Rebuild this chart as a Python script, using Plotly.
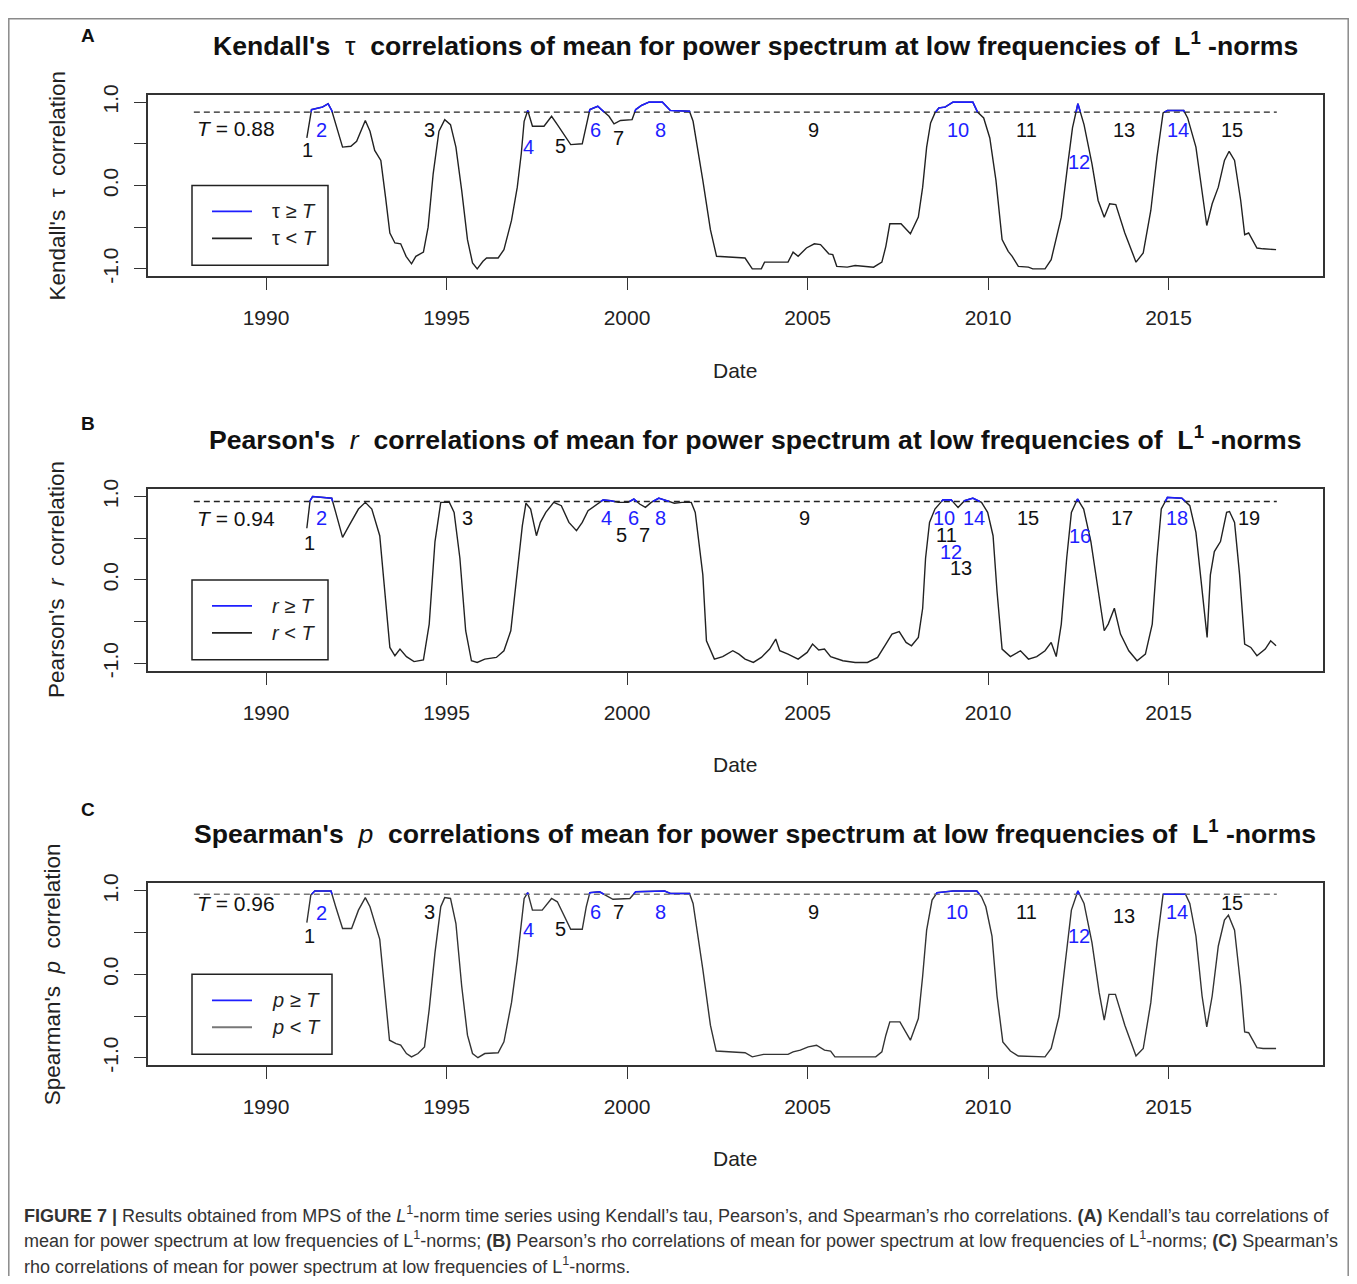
import plotly.graph_objects as go

# ---------------- data ----------------
kendall_T = 0.88
kendall_x = [1991.13, 1991.26, 1991.56, 1991.72, 1991.82, 1991.98, 1992.12, 1992.35, 1992.51, 1992.75,
             1992.88, 1993.01, 1993.18, 1993.31, 1993.43, 1993.57, 1993.73, 1993.88, 1994.03, 1994.15,
             1994.36, 1994.49, 1994.63, 1994.79, 1994.95, 1995.11, 1995.26, 1995.42, 1995.58, 1995.72,
             1995.85, 1996.01, 1996.11, 1996.43, 1996.59, 1996.80, 1996.96, 1997.07, 1997.15, 1997.25,
             1997.38, 1997.70, 1997.91, 1998.07, 1998.28, 1998.44, 1998.76, 1998.87, 1998.97, 1999.19,
             1999.34, 1999.50, 1999.64, 1999.82, 2000.14, 2000.24, 2000.40, 2000.61, 2000.98, 2001.20,
             2001.73, 2001.83, 2002.10, 2002.31, 2002.48, 2003.27, 2003.47, 2003.72, 2003.81, 2004.46,
             2004.60, 2004.74, 2004.97, 2005.19, 2005.36, 2005.59, 2005.70, 2005.81, 2006.10, 2006.32,
             2006.83, 2007.06, 2007.17, 2007.28, 2007.59, 2007.85, 2008.07, 2008.19, 2008.30, 2008.41,
             2008.53, 2008.64, 2008.81, 2009.03, 2009.58, 2009.71, 2009.88, 2010.05, 2010.22, 2010.39,
             2010.56, 2010.67, 2010.84, 2011.12, 2011.24, 2011.58, 2011.75, 2012.03, 2012.20, 2012.34,
             2012.49, 2012.66, 2012.88, 2013.05, 2013.22, 2013.37, 2013.54, 2013.79, 2014.10, 2014.30,
             2014.51, 2014.68, 2014.85, 2014.97, 2015.42, 2015.53, 2015.76, 2015.93, 2016.06, 2016.21,
             2016.38, 2016.55, 2016.68, 2016.83, 2017.00, 2017.11, 2017.22, 2017.45, 2017.62, 2017.98]
kendall_y = [0.57, 0.91, 0.94, 0.98, 0.90, 0.65, 0.46, 0.47, 0.53, 0.78,
             0.65, 0.42, 0.30, -0.14, -0.57, -0.69, -0.70, -0.85, -0.94, -0.85,
             -0.80, -0.50, 0.14, 0.65, 0.79, 0.73, 0.46, -0.06, -0.65, -0.93,
             -1.00, -0.91, -0.87, -0.87, -0.77, -0.42, -0.02, 0.38, 0.77, 0.90,
             0.71, 0.71, 0.83, 0.73, 0.59, 0.49, 0.50, 0.73, 0.91, 0.95,
             0.89, 0.83, 0.74, 0.78, 0.79, 0.91, 0.96, 1.00, 1.00, 0.90,
             0.89, 0.77, 0.06, -0.53, -0.85, -0.87, -1.00, -1.00, -0.92, -0.92,
             -0.80, -0.85, -0.75, -0.70, -0.71, -0.82, -0.83, -0.97, -0.98, -0.96,
             -0.98, -0.92, -0.73, -0.46, -0.46, -0.58, -0.38, -0.02, 0.46, 0.75,
             0.87, 0.93, 0.94, 1.00, 1.00, 0.88, 0.81, 0.57, 0.06, -0.65,
             -0.79, -0.85, -0.97, -0.98, -1.00, -1.00, -0.89, -0.38, 0.22, 0.69,
             0.98, 0.73, 0.26, -0.18, -0.38, -0.22, -0.23, -0.57, -0.92, -0.81,
             -0.30, 0.34, 0.87, 0.90, 0.90, 0.81, 0.46, -0.10, -0.48, -0.22,
             -0.02, 0.30, 0.41, 0.30, -0.18, -0.59, -0.57, -0.75, -0.76, -0.77]

pearson_T = 0.94
pearson_x = [1991.13, 1991.22, 1991.29, 1991.82, 1991.93, 1992.12, 1992.30, 1992.56, 1992.75, 1992.93,
             1993.15, 1993.31, 1993.43, 1993.57, 1993.71, 1993.89, 1994.10, 1994.36, 1994.52, 1994.68,
             1994.84, 1994.95, 1995.08, 1995.21, 1995.37, 1995.53, 1995.69, 1995.85, 1996.06, 1996.38,
             1996.59, 1996.78, 1996.96, 1997.10, 1997.20, 1997.33, 1997.49, 1997.60, 1997.75, 1997.97,
             1998.18, 1998.39, 1998.60, 1998.76, 1998.92, 1999.13, 1999.34, 1999.55, 1999.76, 2000.03,
             2000.19, 2000.35, 2000.51, 2000.67, 2000.88, 2001.10, 2001.31, 2001.52, 2001.78, 2001.89,
             2002.10, 2002.20, 2002.42, 2002.65, 2002.93, 2003.10, 2003.27, 2003.50, 2003.72, 2003.95,
             2004.12, 2004.23, 2004.46, 2004.74, 2004.99, 2005.14, 2005.31, 2005.47, 2005.64, 2005.98,
             2006.32, 2006.66, 2006.94, 2007.17, 2007.34, 2007.54, 2007.73, 2007.88, 2008.07, 2008.19,
             2008.27, 2008.38, 2008.53, 2008.75, 2008.98, 2009.17, 2009.35, 2009.58, 2009.82, 2009.99,
             2010.14, 2010.25, 2010.39, 2010.62, 2010.90, 2011.12, 2011.35, 2011.58, 2011.75, 2011.89,
             2012.03, 2012.18, 2012.31, 2012.48, 2012.65, 2012.85, 2013.05, 2013.22, 2013.33, 2013.50,
             2013.67, 2013.90, 2014.13, 2014.36, 2014.55, 2014.68, 2014.80, 2014.97, 2015.37, 2015.59,
             2015.76, 2015.91, 2016.07, 2016.16, 2016.27, 2016.44, 2016.61, 2016.69, 2016.83, 2016.97,
             2017.11, 2017.28, 2017.45, 2017.68, 2017.83, 2017.98]
pearson_y = [0.62, 0.95, 1.00, 0.98, 0.81, 0.51, 0.65, 0.85, 0.93, 0.85,
             0.53, -0.26, -0.81, -0.91, -0.83, -0.92, -0.98, -0.96, -0.53, 0.46,
             0.93, 0.93, 0.93, 0.81, 0.26, -0.61, -0.97, -0.99, -0.95, -0.93,
             -0.85, -0.61, 0.06, 0.65, 0.92, 0.85, 0.53, 0.69, 0.81, 0.93,
             0.89, 0.69, 0.59, 0.69, 0.83, 0.90, 0.96, 0.95, 0.93, 0.93,
             0.97, 0.91, 0.87, 0.93, 0.98, 0.95, 0.92, 0.93, 0.93, 0.81,
             0.06, -0.73, -0.95, -0.92, -0.85, -0.89, -0.95, -0.99, -0.93, -0.83,
             -0.71, -0.85, -0.89, -0.95, -0.87, -0.77, -0.84, -0.83, -0.92, -0.97,
             -0.99, -0.99, -0.93, -0.77, -0.65, -0.62, -0.75, -0.79, -0.69, -0.34,
             0.26, 0.69, 0.85, 0.96, 0.96, 0.87, 0.95, 0.98, 0.93, 0.81,
             0.53, -0.14, -0.83, -0.92, -0.85, -0.95, -0.92, -0.85, -0.75, -0.92,
             -0.53, 0.26, 0.81, 0.97, 0.85, 0.46, -0.14, -0.61, -0.53, -0.34,
             -0.65, -0.85, -0.97, -0.89, -0.53, 0.26, 0.85, 0.99, 0.98, 0.89,
             0.57, -0.06, -0.69, 0.06, 0.34, 0.46, 0.81, 0.82, 0.69, 0.06,
             -0.77, -0.81, -0.91, -0.83, -0.73, -0.79]

spearman_T = 0.96
spearman_x = [1991.13, 1991.24, 1991.35, 1991.80, 1991.93, 1992.12, 1992.37, 1992.56, 1992.75, 1992.88,
              1993.15, 1993.31, 1993.42, 1993.60, 1993.73, 1993.89, 1994.03, 1994.21, 1994.39, 1994.52,
              1994.68, 1994.84, 1994.95, 1995.11, 1995.26, 1995.42, 1995.58, 1995.72, 1995.87, 1996.06,
              1996.43, 1996.59, 1996.80, 1996.96, 1997.07, 1997.15, 1997.25, 1997.38, 1997.65, 1997.91,
              1998.07, 1998.28, 1998.44, 1998.76, 1998.87, 1998.97, 1999.24, 1999.40, 1999.61, 2000.08,
              2000.24, 2001.04, 2001.20, 2001.73, 2001.83, 2002.10, 2002.31, 2002.47, 2003.27, 2003.47,
              2003.78, 2004.46, 2004.60, 2004.80, 2005.02, 2005.25, 2005.47, 2005.64, 2005.76, 2006.32,
              2006.89, 2007.06, 2007.17, 2007.28, 2007.56, 2007.85, 2008.07, 2008.19, 2008.30, 2008.45,
              2008.59, 2009.03, 2009.69, 2009.82, 2009.94, 2010.11, 2010.25, 2010.41, 2010.62, 2010.84,
              2011.58, 2011.75, 2011.97, 2012.14, 2012.31, 2012.49, 2012.66, 2012.88, 2013.08, 2013.22,
              2013.35, 2013.53, 2013.79, 2014.10, 2014.30, 2014.51, 2014.68, 2014.85, 2015.47, 2015.59,
              2015.76, 2015.93, 2016.06, 2016.21, 2016.38, 2016.55, 2016.66, 2016.83, 2017.00, 2017.11,
              2017.22, 2017.45, 2017.62, 2017.98]
spearman_y = [0.62, 0.95, 1.00, 1.00, 0.81, 0.55, 0.55, 0.77, 0.92, 0.81,
              0.42, -0.34, -0.79, -0.83, -0.85, -0.95, -0.99, -0.95, -0.87, -0.42,
              0.26, 0.81, 0.92, 0.91, 0.61, -0.14, -0.73, -0.95, -1.00, -0.95,
              -0.94, -0.81, -0.34, 0.18, 0.65, 0.91, 0.98, 0.77, 0.77, 0.91,
              0.87, 0.69, 0.54, 0.54, 0.81, 0.98, 0.99, 0.95, 0.90, 0.91,
              0.99, 1.00, 0.97, 0.97, 0.85, 0.06, -0.61, -0.92, -0.94, -0.99,
              -0.96, -0.96, -0.93, -0.91, -0.87, -0.85, -0.91, -0.92, -0.99, -0.99,
              -0.99, -0.93, -0.73, -0.57, -0.57, -0.79, -0.53, -0.02, 0.53, 0.89,
              0.98, 1.00, 1.00, 0.93, 0.81, 0.46, -0.26, -0.81, -0.92, -0.98,
              -0.99, -0.89, -0.50, 0.14, 0.77, 1.00, 0.85, 0.38, -0.22, -0.55,
              -0.24, -0.24, -0.61, -0.98, -0.89, -0.34, 0.38, 0.96, 0.96, 0.85,
              0.46, -0.26, -0.63, -0.26, 0.34, 0.65, 0.71, 0.53, -0.14, -0.69,
              -0.70, -0.88, -0.89, -0.89]

threshold_span = [1988.0, 2018.0]
year_ticks = [1990, 1995, 2000, 2005, 2010, 2015]
corr_ticks = [-1.0, 0.0, 1.0]
corr_ticktext = ["-1.0", "0.0", "1.0"]
corr_minor_ticks = [-0.5, 0.5]

# segment labels: (text, year, value, is_blue)
kendall_labels = [("1", 1991.16, 0.42, 0), ("2", 1991.55, 0.67, 1), ("3", 1994.54, 0.67, 0),
                  ("4", 1997.26, 0.46, 1), ("5", 1998.15, 0.47, 0), ("6", 1999.13, 0.67, 1),
                  ("7", 1999.75, 0.57, 0), ("8", 2000.93, 0.67, 1), ("9", 2005.17, 0.67, 0),
                  ("10", 2009.18, 0.67, 1), ("11", 2011.07, 0.67, 0), ("12", 2012.51, 0.28, 1),
                  ("13", 2013.78, 0.67, 0), ("14", 2015.25, 0.67, 1), ("15", 2016.75, 0.67, 0)]
pearson_labels = [("1", 1991.19, 0.44, 0), ("2", 1991.54, 0.74, 1), ("3", 1995.58, 0.74, 0),
                  ("4", 1999.43, 0.74, 1), ("5", 1999.84, 0.54, 0), ("6", 2000.19, 0.74, 1),
                  ("7", 2000.49, 0.54, 0), ("8", 2000.93, 0.74, 1), ("9", 2004.91, 0.74, 0),
                  ("10", 2008.79, 0.74, 1), ("11", 2008.86, 0.54, 0), ("12", 2008.98, 0.34, 1),
                  ("13", 2009.26, 0.14, 0), ("14", 2009.60, 0.74, 1), ("15", 2011.12, 0.74, 0),
                  ("16", 2012.56, 0.53, 1), ("17", 2013.72, 0.74, 0), ("18", 2015.23, 0.74, 1),
                  ("19", 2017.23, 0.74, 0)]
spearman_labels = [("1", 1991.19, 0.46, 0), ("2", 1991.54, 0.74, 1), ("3", 1994.54, 0.75, 0),
                   ("4", 1997.26, 0.53, 1), ("5", 1998.15, 0.54, 0), ("6", 1999.13, 0.75, 1),
                   ("7", 1999.75, 0.75, 0), ("8", 2000.93, 0.75, 1), ("9", 2005.17, 0.75, 0),
                   ("10", 2009.15, 0.75, 1), ("11", 2011.07, 0.75, 0), ("12", 2012.51, 0.46, 1),
                   ("13", 2013.76, 0.70, 0), ("14", 2015.23, 0.75, 1), ("15", 2016.75, 0.85, 0)]

assert len(kendall_x) == len(kendall_y)
assert len(pearson_x) == len(pearson_y)
assert len(spearman_x) == len(spearman_y)

# ---------------- geometry / styling ----------------
# Positions below are in window pixels; px/py convert them to paper fractions
# (page body margin on the left; measured vertical placement of the figure).
OFFX = 8
OFFY = 17.3
SY = 0.988
W, H = 1357 - 2 * OFFX, 1284 - 2 * OFFX
FONT = "Liberation Sans, Arial, Helvetica, sans-serif"
BLUE = "#1e1eff"


def px(x):
    return min(max((x - OFFX) / W, 0.0), 1.0)


def py(y):
    return min(max(1 - ((y - OFFY) / SY) / H, 0.0), 1.0)


def above(xs, ys, T):
    """Blue overlay: parts of the curve at or above T, with crossings interpolated."""
    bx, by = [], []
    n = len(xs)
    for i in range(n):
        if ys[i] >= T:
            if i > 0 and ys[i - 1] < T:
                f = (T - ys[i - 1]) / (ys[i] - ys[i - 1])
                bx.append(xs[i - 1] + f * (xs[i] - xs[i - 1]))
                by.append(T)
            bx.append(xs[i])
            by.append(ys[i])
            if i < n - 1 and ys[i + 1] < T:
                f = (ys[i] - T) / (ys[i] - ys[i + 1])
                bx.append(xs[i] + f * (xs[i + 1] - xs[i]))
                by.append(T)
                bx.append(None)
                by.append(None)
    return bx, by


panels = [
    dict(key="", top=94, bottom=276, x=kendall_x, y=kendall_y, T=kendall_T, labels=kendall_labels,
         letter="A", letter_y=35, title_y=43,
         title="<b>Kendall's</b>\u00a0\u00a0τ\u00a0\u00a0<b>correlations of mean for power spectrum at low frequencies of\u00a0\u00a0L<sup>1</sup>\u00a0-norms</b>",
         ytitle="Kendall's\u00a0\u00a0τ\u00a0\u00a0correlation", ytitle_x=57,
         leg1="τ ≥ <i>T</i>", leg2="τ < <i>T</i>", leg_w=136, dash_col="#222", line_col="#222",
         leg_black="#222", tlab="<i>T</i> = 0.88", tlab_y=0.68, date_y=370),
    dict(key="2", top=489, bottom=671, x=pearson_x, y=pearson_y, T=pearson_T, labels=pearson_labels,
         letter="B", letter_y=423, title_y=438,
         title="<b>Pearson's</b>\u00a0\u00a0<i>r</i>\u00a0\u00a0<b>correlations of mean for power spectrum at low frequencies of\u00a0\u00a0L<sup>1</sup>\u00a0-norms</b>",
         ytitle="Pearson's\u00a0\u00a0<i>r</i>\u00a0\u00a0correlation", ytitle_x=57,
         leg1="<i>r</i> ≥ <i>T</i>", leg2="<i>r</i> < <i>T</i>", leg_w=136, dash_col="#222", line_col="#222",
         leg_black="#222", tlab="<i>T</i> = 0.94", tlab_y=0.74, date_y=765),
    dict(key="3", top=884, bottom=1066, x=spearman_x, y=spearman_y, T=spearman_T, labels=spearman_labels,
         letter="C", letter_y=810, title_y=832,
         title="<b>Spearman's</b>\u00a0\u00a0<i>p</i>\u00a0\u00a0<b>correlations of mean for power spectrum at low frequencies of\u00a0\u00a0L<sup>1</sup>\u00a0-norms</b>",
         ytitle="Spearman's\u00a0\u00a0<i>p</i>\u00a0\u00a0correlation", ytitle_x=52,
         leg1="<i>p</i> ≥ <i>T</i>", leg2="<i>p</i> < <i>T</i>", leg_w=140, dash_col="#777", line_col="#333",
         leg_black="#777", tlab="<i>T</i> = 0.96", tlab_y=0.85, date_y=1159),
]

XL, XRt = 148, 1323
XRANGE = [1986.73, 2019.28]
YRANGE = [-1.09, 1.09]

fig = go.Figure()
annotations = []
shapes = []
layout_axes = {}

for p in panels:
    k = p["key"]
    xref, yref = "x" + k, "y" + k
    fig.add_trace(go.Scatter(x=p["x"], y=p["y"], mode="lines", xaxis=xref, yaxis=yref,
                             line=dict(color=p["line_col"], width=1.4), showlegend=False,
                             hoverinfo="skip"))
    fig.add_trace(go.Scatter(x=threshold_span, y=[p["T"], p["T"]], mode="lines", xaxis=xref, yaxis=yref,
                             line=dict(color=p["dash_col"], width=1.4, dash="6px,4px"),
                             showlegend=False, hoverinfo="skip"))
    bx, by = above(p["x"], p["y"], p["T"])
    fig.add_trace(go.Scatter(x=bx, y=by, mode="lines", xaxis=xref, yaxis=yref,
                             line=dict(color=BLUE, width=1.6), showlegend=False,
                             connectgaps=False, hoverinfo="skip"))

    dom_y = [py(p["bottom"]), py(p["top"])]
    layout_axes["xaxis" + k] = dict(
        domain=[px(XL), px(XRt)], range=XRANGE, anchor=yref, showgrid=False, zeroline=False,
        showline=True, mirror=True, linecolor="#333", linewidth=1.6, ticks="outside", ticklen=12,
        tickwidth=1.4, tickcolor="#333", tickvals=year_ticks, ticklabelstandoff=10,
        tickfont=dict(family=FONT, size=21, color="#222"))
    layout_axes["yaxis" + k] = dict(
        domain=dom_y, range=YRANGE, anchor=xref, showgrid=False, zeroline=False,
        showline=True, mirror=True, linecolor="#333", linewidth=1.6, ticks="outside", ticklen=12,
        tickwidth=1.4, tickcolor="#333", tickvals=corr_ticks, ticktext=corr_ticktext, tickangle=-90,
        minor=dict(tickvals=corr_minor_ticks, ticks="outside", ticklen=12, tickwidth=1.4,
                   tickcolor="#333", showgrid=False),
        ticklabelstandoff=8, tickfont=dict(family=FONT, size=21, color="#222"))

    for txt, lx, ly, isb in p["labels"]:
        annotations.append(dict(x=lx, y=ly, xref=xref, yref=yref, text=txt, showarrow=False,
                                xanchor="center", yanchor="middle",
                                font=dict(family=FONT, size=20, color=BLUE if isb else "#111")))
    annotations.append(dict(x=1989.17, y=p["tlab_y"], xref=xref, yref=yref, text=p["tlab"],
                            showarrow=False, xanchor="center", yanchor="middle",
                            font=dict(family=FONT, size=21, color="#111")))

    annotations.append(dict(x=px(755), y=py(p["title_y"]), xref="paper", yref="paper", text=p["title"],
                            showarrow=False, xanchor="center", yanchor="middle",
                            font=dict(family=FONT, size=26.6, color="#111")))
    annotations.append(dict(x=px(88), y=py(p["letter_y"]), xref="paper", yref="paper",
                            text="<b>" + p["letter"] + "</b>", showarrow=False,
                            xanchor="center", yanchor="middle",
                            font=dict(family=FONT, size=19, color="#111")))
    annotations.append(dict(x=px(p["ytitle_x"]), y=py((p["top"] + p["bottom"]) / 2), xref="paper",
                            yref="paper", text=p["ytitle"], showarrow=False, textangle=-90,
                            xanchor="center", yanchor="middle",
                            font=dict(family=FONT, size=22.5, color="#222")))
    annotations.append(dict(x=px(735), y=py(p["date_y"]), xref="paper", yref="paper", text="Date",
                            showarrow=False, xanchor="center", yanchor="middle",
                            font=dict(family=FONT, size=21, color="#222")))

    lt = p["top"] + 91
    lb = lt + 80
    shapes.append(dict(type="rect", xref="paper", yref="paper", x0=px(192), x1=px(192 + p["leg_w"]),
                       y0=py(lb), y1=py(lt), line=dict(color="#222", width=1.5), fillcolor="white"))
    shapes.append(dict(type="line", xref="paper", yref="paper", x0=px(212), x1=px(252),
                       y0=py(lt + 26), y1=py(lt + 26), line=dict(color=BLUE, width=1.8)))
    shapes.append(dict(type="line", xref="paper", yref="paper", x0=px(212), x1=px(252),
                       y0=py(lt + 53), y1=py(lt + 53), line=dict(color=p["leg_black"], width=1.8)))
    annotations.append(dict(x=px(270), y=py(lt + 26), xref="paper", yref="paper", text=p["leg1"],
                            showarrow=False, xanchor="left", yanchor="middle",
                            font=dict(family=FONT, size=20, color="#222")))
    annotations.append(dict(x=px(270), y=py(lt + 53), xref="paper", yref="paper", text=p["leg2"],
                            showarrow=False, xanchor="left", yanchor="middle",
                            font=dict(family=FONT, size=20, color="#222")))

# outer frame (as far as the page allows)
shapes.append(dict(type="rect", xref="paper", yref="paper", x0=0.0006, x1=0.9994, y0=-0.01, y1=0.9994,
                   line=dict(color="#8a8a8a", width=1.5), layer="below"))

caption_lines = [
    "<b>FIGURE 7 |</b> Results obtained from MPS of the <i>L</i><sup>1</sup>-norm time series using Kendall’s tau, Pearson’s, and Spearman’s rho correlations. <b>(A)</b> Kendall’s tau correlations of",
    "mean for power spectrum at low frequencies of L<sup>1</sup>-norms; <b>(B)</b> Pearson’s rho correlations of mean for power spectrum at low frequencies of L<sup>1</sup>-norms; <b>(C)</b> Spearman’s",
    "rho correlations of mean for power spectrum at low frequencies of L<sup>1</sup>-norms.",
]
caption_y = [1216, 1241, 1267]
for txt, cy in zip(caption_lines, caption_y):
    annotations.append(dict(x=px(22), y=py(cy), xref="paper", yref="paper", text=txt, showarrow=False,
                            xanchor="left", yanchor="middle",
                            font=dict(family=FONT, size=18, color="#333")))

fig.update_layout(
    width=W, height=H, margin=dict(l=0, r=0, t=0, b=0),
    paper_bgcolor="white", plot_bgcolor="white",
    annotations=annotations, shapes=shapes, showlegend=False,
    **layout_axes,
)

fig.write_html("out.html")
